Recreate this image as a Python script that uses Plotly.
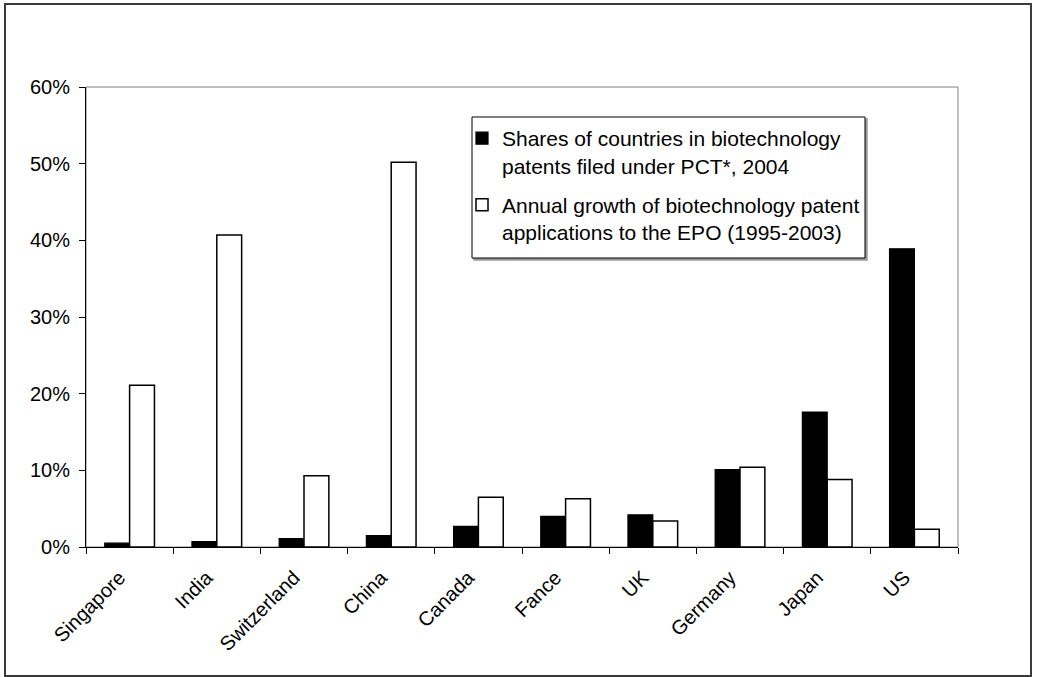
import plotly.graph_objects as go

countries = ["Singapore", "India", "Switzerland", "China", "Canada",
             "Fance", "UK", "Germany", "Japan", "US"]
pct_shares = [0.5, 0.7, 1.1, 1.5, 2.7, 4.0, 4.2, 10.1, 17.6, 38.9]
epo_growth = [21.1, 40.7, 9.3, 50.2, 6.5, 6.3, 3.4, 10.4, 8.8, 2.3]
y_ticks = [0, 10, 20, 30, 40, 50, 60]
y_tick_labels = ["0%", "10%", "20%", "30%", "40%", "50%", "60%"]

name_shares = "Shares of countries in biotechnology<br>patents filed under PCT*, 2004"
name_growth = "Annual growth of biotechnology patent<br>applications to the EPO (1995-2003)"

FONT = "Liberation Sans, Arial, sans-serif"
W, H = 1037, 677
L, R, T, B = 86, 79, 87, 130
pw, ph = W - L - R, H - T - B

def px2paper_x(x):
    return (x - L) / pw

def px2paper_y(y):
    return (H - B - y) / ph

fig = go.Figure()
fig.add_trace(go.Bar(
    x=countries, y=pct_shares, name=name_shares,
    marker=dict(color="black", line=dict(color="black", width=1.2)),
    legendgroup="a",
))
fig.add_trace(go.Bar(
    x=countries, y=epo_growth, name=name_growth,
    marker=dict(color="white", line=dict(color="black", width=1.5)),
    legendgroup="b",
))

shapes = [
    # outer frame
    dict(type="rect", xref="paper", yref="paper",
         x0=px2paper_x(5), x1=px2paper_x(1031), y0=px2paper_y(676), y1=px2paper_y(4),
         line=dict(color="#3a3a3a", width=2), layer="below"),
    # plot area box (gray)
    dict(type="rect", xref="paper", yref="paper", x0=0, x1=1, y0=0, y1=1,
         line=dict(color="#808080", width=1), layer="below"),
    # legend shadow
    dict(type="rect", xref="paper", yref="paper",
         x0=px2paper_x(474), x1=px2paper_x(867), y0=px2paper_y(260), y1=px2paper_y(119),
         line=dict(color="#9a9a9a", width=1.5), fillcolor="#9a9a9a", layer="above"),
    # legend box
    dict(type="rect", xref="paper", yref="paper",
         x0=px2paper_x(472), x1=px2paper_x(865), y0=px2paper_y(258), y1=px2paper_y(117),
         line=dict(color="black", width=1), fillcolor="white", layer="above"),
]

fig.update_layout(
    width=W, height=H,
    margin=dict(l=L, r=R, t=T, b=B, pad=0),
    paper_bgcolor="white", plot_bgcolor="white",
    font=dict(family=FONT, size=20, color="black"),
    barmode="group", bargap=0.43, bargroupgap=0,
    showlegend=True,
    legend=dict(
        x=px2paper_x(462), y=px2paper_y(118), xanchor="left", yanchor="top",
        bgcolor="rgba(0,0,0,0)", borderwidth=0, valign="top",
        font=dict(family=FONT, size=21, color="black"),
        traceorder="grouped", tracegroupgap=9,
    ),
    shapes=shapes,
    xaxis=dict(
        showline=True, linecolor="black", linewidth=1,
        ticks="outside", ticklen=6, tickcolor="black", tickson="boundaries",
        tickangle=-45, showgrid=False, ticklabelstandoff=10, ticklabelshift=-10,
        tickfont=dict(family=FONT, size=20, color="black"),
    ),
    yaxis=dict(
        range=[0, 60], showline=True, linecolor="black", linewidth=1,
        ticks="outside", ticklen=6, tickcolor="black", ticklabelstandoff=5,
        tickvals=y_ticks, ticktext=y_tick_labels, showgrid=False, zeroline=False,
        tickfont=dict(family=FONT, size=20, color="black"),
    ),
)

fig.write_html(
    "out.html",
    config={"displayModeBar": False},
    post_script="document.body.style.margin='0';document.body.style.overflow='hidden';",
)
